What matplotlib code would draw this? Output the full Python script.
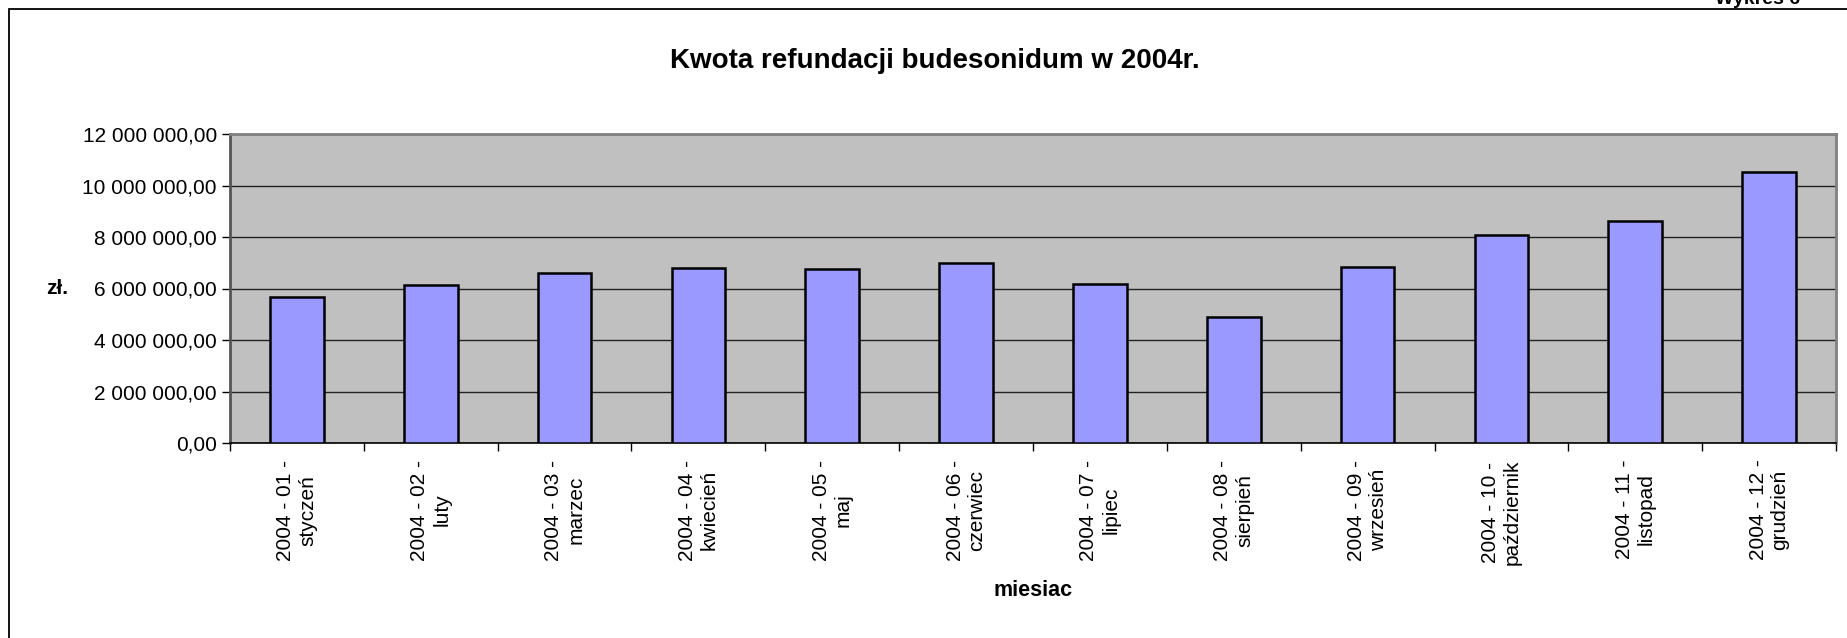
import matplotlib
matplotlib.use("Agg")
import matplotlib.pyplot as plt
from matplotlib.patches import Rectangle
from matplotlib.ticker import FixedLocator, FuncFormatter

plt.rcParams['font.family'] = ['Liberation Sans', 'DejaVu Sans']

months = ["2004 - 01 -\nstyczeń", "2004 - 02 -\nluty", "2004 - 03 -\nmarzec",
          "2004 - 04 -\nkwiecień", "2004 - 05 -\nmaj", "2004 - 06 -\nczerwiec",
          "2004 - 07 -\nlipiec", "2004 - 08 -\nsierpień", "2004 - 09 -\nwrzesień",
          "2004 - 10 -\npaździernik", "2004 - 11 -\nlistopad", "2004 - 12 -\ngrudzień"]
values = [5680000, 6140000, 6590000, 6790000, 6750000, 6990000,
          6160000, 4900000, 6830000, 8070000, 8620000, 10510000]
yticks = [0, 2000000, 4000000, 6000000, 8000000, 10000000, 12000000]

W, H = 1847, 638
fig = plt.figure(figsize=(W / 100, H / 100), dpi=100)
fig.patch.set_facecolor('white')

# outer chart frame
fig.patches.append(Rectangle((9 / W, -0.1), 1.2, (H - 9) / H + 0.1,
                             transform=fig.transFigure, fill=False,
                             edgecolor='black', linewidth=1.3))

L, R, T, B = 230, 1836, 134, 443
ax = fig.add_axes([L / W, (H - B) / H, (R - L) / W, (B - T) / H])
ax.set_facecolor('#C0C0C0')

x = list(range(len(months)))
ax.bar(x, values, width=0.4, color='#9999FF', edgecolor='black', linewidth=1.8, zorder=3)

ax.set_xlim(-0.5, len(months) - 0.5)
ax.set_ylim(0, 12000000)
ax.yaxis.set_major_locator(FixedLocator(yticks))
ax.yaxis.set_major_formatter(FuncFormatter(
    lambda v, p: "{:,.2f}".format(v).replace(",", " ").replace(".", ",")))
ax.grid(axis='y', color='#222222', linewidth=1.0, zorder=1)
ax.set_axisbelow(True)

ax.set_xticks([i - 0.5 for i in range(len(months) + 1)])
ax.set_xticklabels([])
ax.set_xticks(x, minor=True)
ax.set_xticklabels(months, minor=True, rotation=90, ha='center', va='top',
                   multialignment='center', fontsize=15)
ax.tick_params(axis='x', which='minor', length=0, pad=12)
ax.tick_params(axis='x', which='major', length=6, width=1, color='black', direction='out')
ax.tick_params(axis='y', length=6, width=1, color='black', direction='out', labelsize=15, pad=3.5)

for s in ['top', 'right']:
    ax.spines[s].set_color('#808080')
    ax.spines[s].set_linewidth(2)
ax.spines['left'].set_color('#555555')
ax.spines['left'].set_linewidth(2)
ax.spines['bottom'].set_color('black')
ax.spines['bottom'].set_linewidth(1.2)

fig.text(935 / W, 1 - 61 / H, "Kwota refundacji budesonidum w 2004r.",
         ha='center', va='center', fontsize=20, fontweight='bold')
fig.text(57 / W, 1 - 289 / H, "zł.", ha='center', va='center',
         fontsize=15, fontweight='bold')
fig.text(1033 / W, 1 - 590 / H, "miesiac", ha='center', va='center',
         fontsize=15.5, fontweight='bold')
fig.text(1800 / W, 1 - 4 / H, "Wykres 6", ha='right', va='baseline',
         fontsize=14, fontweight='bold')

fig.savefig("out.png", dpi=100)
